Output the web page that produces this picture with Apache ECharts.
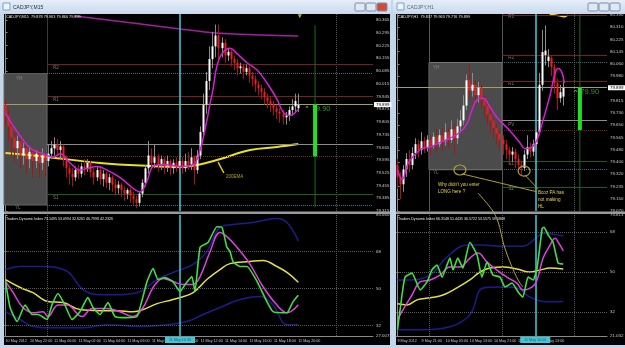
<!DOCTYPE html>
<html><head><meta charset="utf-8">
<script src="https://cdn.jsdelivr.net/npm/echarts@6.0.0/dist/echarts.min.js"></script>
<style>html,body{margin:0;padding:0;background:#c4d6ea;overflow:hidden}#chart{width:625px;height:348px}</style>
</head><body><div id="chart"></div>
<script>
// ================= DATA =================
const m15TimeLabels = ['10 May 2012','10 May 22:00','11 May 00:00','11 May 02:00','11 May 04:00','11 May 06:00','11 May 08:00','11 May 10:00','11 May 12:00','11 May 14:00','11 May 16:00','11 May 18:00','11 May 20:00'];
const h1TimeLabels = ['9 May 2012','9 May 21:00','10 May 05:00','10 May 13:00','10 May 21:00','11 May 05:00','11 May 13:00'];
const m15PriceTicks = [79.315,79.385,79.455,79.525,79.595,79.665,79.735,79.805,79.875,79.945,80.015,80.085,80.155,80.225,80.295,80.365];
const h1PriceTicks = [79.070,79.150,79.235,79.320,79.400,79.480,79.565,79.650,79.730,79.815,79.980,80.060,80.145,80.225,80.310,80.390];
const m15TdiTicks = [27.0073,32,50,68,85.6609];
const h1TdiTicks = [21.032,32,50,68,75.813];

// candles: [open, close, low, high] in 0.01 JPY
const m15Bars = [
[7990,7984,7978,7993],[7984,7978,7970,7987],[7978,7972,7962,7981],[7972,7966,7958,7975],[7966,7970,7960,7973],
[7970,7962,7955,7972],[7962,7966,7957,7969],[7966,7960,7952,7968],[7960,7964,7955,7967],[7964,7959,7950,7966],
[7959,7963,7955,7965],[7963,7958,7950,7965],[7958,7962,7954,7966],[7962,7959,7950,7963],[7959,7963,7956,7968],
[7963,7966,7960,7970],[7966,7968,7962,7972],[7968,7965,7961,7971],[7965,7967,7960,7970],[7967,7960,7956,7968],
[7960,7955,7950,7962],[7955,7952,7946,7957],[7952,7950,7945,7955],[7950,7954,7948,7956],[7954,7952,7949,7957],
[7952,7956,7950,7958],[7956,7955,7951,7960],[7955,7958,7953,7960],[7958,7953,7950,7959],[7953,7950,7946,7955],
[7950,7954,7948,7956],[7954,7949,7946,7956],[7949,7952,7945,7954],[7952,7947,7944,7953],[7947,7950,7943,7952],
[7950,7946,7942,7951],[7946,7944,7940,7949],[7944,7946,7941,7948],[7946,7943,7939,7947],[7943,7941,7937,7945],
[7941,7943,7938,7944],[7943,7940,7936,7944],[7940,7938,7935,7942],[7938,7936,7933,7940],[7936,7941,7934,7942],
[7941,7947,7939,7949],[7947,7955,7945,7957],[7955,7962,7952,7970],[7962,7958,7955,7966],[7958,7961,7955,7968],
[7961,7957,7953,7963],[7957,7960,7954,7962],[7960,7956,7952,7961],[7956,7959,7953,7962],[7959,7955,7951,7960],
[7955,7958,7952,7960],[7958,7956,7953,7961],[7956,7959,7952,7962],[7959,7955,7952,7961],[7955,7959,7953,7963],
[7959,7957,7954,7964],[7957,7961,7954,7966],[7961,7954,7946,7962],[7954,7962,7952,7965],[7962,7975,7960,7978],
[7975,7990,7972,7996],[7990,8003,7985,8008],[8003,8015,7998,8022],[8015,8022,8010,8030],[8022,8028,8016,8034],
[8028,8021,8015,8034],[8021,8024,8016,8027],[8024,8017,8013,8026],[8017,8019,8014,8021],[8019,8015,8011,8020],
[8015,8013,8009,8017],[8013,8010,8006,8015],[8010,8011,8007,8013],[8011,8008,8004,8012],[8008,8010,8006,8012],
[8010,8006,8002,8011],[8006,8004,8000,8008],[8004,8001,7997,8006],[8001,7999,7995,8003],[7999,7997,7993,8001],
[7997,7994,7990,7999],[7994,7992,7988,7996],[7992,7990,7986,7994],[7990,7988,7984,7992],[7988,7986,7982,7990],
[7986,7985,7980,7988],[7985,7983,7979,7987],[7983,7984,7979,7986],[7984,7987,7981,7989],[7987,7989,7984,7993],
[7989,7992,7986,7996],[7988,7990,7986,7996]
];
const h1Bars = [
[7938,7930,7922,7942],[7930,7925,7915,7933],[7925,7935,7920,7938],[7935,7942,7930,7946],[7942,7938,7933,7948],
[7938,7946,7935,7950],[7946,7952,7942,7956],[7952,7948,7943,7955],[7948,7954,7945,7960],[7954,7950,7946,7957],
[7950,7955,7947,7958],[7955,7951,7944,7957],[7951,7957,7949,7960],[7957,7952,7946,7962],[7952,7958,7950,7962],
[7958,7954,7948,7963],[7954,7960,7951,7966],[7960,7955,7950,7963],[7955,7962,7953,7968],[7962,7956,7945,7966],
[7956,7964,7952,7969],[7964,7968,7960,7975],[7968,7978,7965,7985],[7978,7995,7975,7999],[7995,7988,7983,8005],
[7988,7992,7984,8000],[7992,7985,7978,7995],[7985,7990,7980,7994],[7990,7982,7976,7992],[7982,7978,7970,7985],
[7978,7972,7965,7980],[7972,7968,7960,7975],[7968,7963,7956,7970],[7963,7959,7952,7966],[7959,7955,7948,7962],
[7955,7952,7945,7958],[7952,7948,7942,7955],[7948,7945,7938,7950],[7945,7947,7940,7950],[7947,7942,7936,7949],
[7942,7938,7933,7945],[7938,7936,7931,7941],[7936,7945,7934,7948],[7945,7950,7942,7958],[7950,7947,7943,7953],
[7947,7952,7944,7955],[7952,7960,7948,7963],[7960,7992,7958,8000],[7992,8014,7988,8029],[8012,8015,8005,8032],
[8008,8011,8004,8016],[8010,8004,7998,8012],[8004,7993,7986,8006],[7993,7983,7975,7996],[7983,7987,7980,7992],
[7984,7990,7978,7996]
];

// moving averages: [bar, price]
const m15MaFast = [[0,79.85],[6.4,79.69],[9,79.65],[12.3,79.63],[15.6,79.61],[17.9,79.63],[21.1,79.58],[24.4,79.54],[27,79.55],[30,79.56],[33.3,79.54],[37.5,79.50],[41.8,79.44],[44.1,79.42],[46.4,79.48],[48.4,79.56],[51.6,79.57],[57.2,79.56],[61.5,79.57],[63.8,79.65],[66,79.81],[67,79.90],[68,79.98],[69.3,80.11],[71,80.18],[73.6,80.21],[75.9,80.18],[79.2,80.13],[82.5,80.09],[85.7,80.02],[89,79.93],[91,79.86],[93.3,79.84],[96,79.875]];
const m15Ema200 = [[0,79.634],[13.6,79.612],[31,79.579],[47.4,79.562],[57.2,79.557],[62.8,79.568],[69.3,79.595],[80.2,79.650],[89,79.667],[96,79.683]];
const m15MaSlow = [[22.8,80.387],[57.2,80.316],[68.7,80.294],[96,80.277]];
const h1MaFast = [[0,79.35],[1.5,79.28],[3.5,79.39],[5.8,79.45],[8.1,79.49],[10.8,79.50],[14.1,79.53],[17.4,79.56],[20.7,79.60],[23.1,79.66],[24.7,79.75],[26.4,79.82],[28.4,79.83],[30.7,79.77],[33,79.70],[37.3,79.61],[40.6,79.53],[42.3,79.49],[44.6,79.50],[46.3,79.55],[48,79.66],[50.6,79.85],[52.3,80.00],[53.3,80.03],[54.6,80.00],[55.3,79.93]];
const h1TopLine = [[50.5,80.395],[53.8,80.385],[55.5,80.378],[56.5,80.39]];

// Traders Dynamic Index: [bar, value]
const m15TdiRsi = [[0,53.5],[1.5,40.8],[3.8,34],[6.4,42],[8.7,37.4],[10.7,37.4],[13.6,35],[15.2,42],[17.2,47.6],[19.5,42],[21.8,35],[24.4,38.8],[27,45.6],[28.7,40.8],[31,37.4],[33.6,43.2],[35.9,36.4],[39.8,35.9],[43.1,36.4],[46.4,53.4],[48.4,59.7],[50,54.4],[52.3,55.3],[54.9,53.4],[57.2,48.5],[58.9,52],[61.1,55.8],[62.1,48.5],[63.8,70],[66.4,72.3],[69.3,80],[71,79.6],[72.6,70],[73.6,68],[74.6,63],[76.9,60.7],[79.2,60.7],[82.5,53.4],[85.7,43.7],[87.7,38.8],[91,38.3],[92.3,38.3],[94.3,43.7],[96,46.8]];
const m15TdiSignal = [[0,53.5],[2.5,48],[5.7,40.8],[9,38.3],[12.3,38.8],[13.9,36.4],[17.2,42],[20.2,42],[25.1,36.4],[28.4,40.3],[33.3,40.3],[37.5,38.8],[41.8,36.4],[45.1,40.8],[48.4,50.5],[51.6,54.9],[54.9,53.4],[58.2,52],[61.5,52],[63.8,55.8],[67.1,68],[70.3,77.2],[72.6,75.2],[75.9,70],[80.2,61.7],[84.4,51],[89,42],[92.3,38.3],[96,42.2]];
const m15TdiBase = [[0,54.3],[4.8,50.5],[9,48],[13.9,43.7],[18.9,43.2],[24.4,39.8],[31,39.3],[36.6,39.3],[41.8,38.8],[45.1,39.8],[49.7,42.7],[54.9,44.7],[61.5,48],[66,54.4],[70.3,59.2],[73.6,62.1],[80.2,63.1],[84.4,63.6],[89,60.7],[92.3,57.8],[96,53.1]];
const m15TdiUpper = [[0,59.2],[4.8,60.7],[12.3,60.7],[20.2,58.3],[25.4,49.5],[31,47],[37.5,47],[44.1,48.5],[49.7,54.4],[54.9,57.8],[61.5,61.7],[66,68],[70.3,79.6],[74.6,81],[81.1,82],[89,84],[92.3,82],[96,73.1]];
const m15TdiLower = [[0,38.8],[4.8,35],[9,31.6],[14.6,31],[25.4,31],[33.3,32.5],[44.1,31.6],[52.9,32.5],[59.5,34],[64.8,37.4],[70.3,40.8],[76.9,44.7],[83.4,46.1],[87.7,42],[92.3,32.5],[96,32.6]];
const h1TdiRsi = [[0,23.9],[1.5,39.6],[2.5,47.7],[4.8,49.5],[7.5,41.9],[9.8,45.5],[11.4,50.9],[13.1,53.2],[14.8,47.7],[17.4,56.3],[18.4,50.9],[20,56.3],[21.7,51.8],[24,63.5],[26.4,57.7],[28,47.7],[29.7,54.5],[31.7,48.6],[34,47.7],[35.7,43.2],[38,45],[40,41],[41.6,38.7],[43.3,47.7],[45,46.4],[46.3,51.8],[48,69.8],[48.6,70.3],[50,66.7],[51.6,63.5],[53.3,54],[55,53.6]];
const h1TdiSignal = [[0,28.4],[1.8,32.9],[4.8,39.6],[7.5,45.5],[10.8,46.4],[14.1,48.6],[17.4,52.3],[20.7,52.3],[24,56.3],[26.7,58.6],[29.7,54.5],[33,50.9],[36.3,47.7],[39.6,45],[41.6,41.9],[44.6,43.2],[46.3,46.4],[48.3,56.3],[50.6,62.2],[52.3,65.3],[53.3,63.5],[55,59.6]];
const h1TdiBase = [[0,35.6],[3.2,35.1],[6.5,37.4],[10.8,38.3],[15.1,39.6],[19.7,42.8],[24,46.4],[27.4,50],[30.7,51.8],[35,52.3],[39.6,51.4],[43.9,50],[47.3,50.9],[50.6,51.8],[55,51.4]];
const h1TdiUpper = [[0,46.4],[4.1,46.4],[10.8,48.6],[16.4,56.8],[23.1,62.2],[27.4,62.2],[34,61.7],[41.6,61.7],[46.3,65.8],[48.3,67.6],[55,66.3]];
const h1TdiLower = [[0,23.9],[8.5,23.9],[17.4,25.2],[24,30.6],[28.4,42.8],[35,43.2],[39.6,42.8],[43.9,38.7],[49.6,36.5],[55,36.6]];

// levels
const bidPrice = 79.899;
const pivotNames = ['R3','R2','R1','PV','S1','S2'];
const pivotValues = [80.390, 80.120, 79.945, 79.680, 79.405, 79.232];
const yHigh = 80.070, yLow = 79.348, dayOpen = 79.615;
const m15Header = 'CADJPY,M15  79.878 79.963 79.860 79.899';
const h1Header = 'CADJPY,H1  79.837 79.963 79.776 79.899';
const m15TdiHeader = 'Traders Dynamic Index 73.1495 53.0994 32.6261 46.7998 42.2326';
const h1TdiHeader = 'Traders Dynamic Index 66.3148 51.4435 36.5722 53.5575 59.5868';

// ================= CHART =================
const FONT = 'Liberation Sans';
const AX = '#c8c8c8';
const AXF = 4.4;
const TXF = 3.7;
const chart = echarts.init(document.getElementById('chart'), null, {renderer:'canvas', width:625, height:348});

function candles(bars, xi, yi){
  return {type:'custom', xAxisIndex:xi, yAxisIndex:yi, z:5, silent:true,
    data: bars.map((b,i)=>[i,b[0]/100,b[1]/100,b[2]/100,b[3]/100]),
    encode:{x:0,y:[1,2,3,4]},
    renderItem(params, api){
      const i=api.value(0),o=api.value(1),c=api.value(2),l=api.value(3),h=api.value(4);
      const pO=api.coord([i,o]),pC=api.coord([i,c]),pL=api.coord([i,l]),pH=api.coord([i,h]);
      const up=c>=o, x=Math.floor(pO[0]);
      const top=Math.min(pO[1],pC[1]), ht=Math.max(1,Math.abs(pO[1]-pC[1]));
      return {type:'group',children:[
        {type:'line',shape:{x1:x+0.5,y1:pH[1],x2:x+0.5,y2:pL[1]},style:{stroke:up?'#8c8c8c':'#a81414',lineWidth:1}},
        {type:'rect',shape:{x:x-0.5,y:top,width:2,height:ht},style:{fill:up?'#ffffff':'#f01c1c'}}
      ]};
    }};
}
function line(data, xi, yi, color, width, z, smooth){
  return {type:'line', xAxisIndex:xi, yAxisIndex:yi, data, symbol:'none', showSymbol:false, silent:true,
    smooth: smooth||0, z: z||4, lineStyle:{color, width}};
}
function seg(x1,x2,v,color,type){ return [{coord:[x1,v],lineStyle:{color,type,width:1}},{coord:[x2,v]}]; }
function vline(x,color,type,w){ return {xAxis:x,lineStyle:{color,type,width:w||1}}; }
function carrier(xi,yi,z,extra){ return Object.assign({type:'line',xAxisIndex:xi,yAxisIndex:yi,data:[],z,silent:true},extra); }
function texts(data, xi, yi, color, size, z){
  return {type:'scatter', xAxisIndex:xi, yAxisIndex:yi, symbolSize:0, z:z||6, silent:true,
    data: data.map(d=>({value:[d[0],d[1]], label:{formatter:d[2], offset:d[3]||[0,3]}})),
    label:{show:true, position:'right', distance:0, color, fontSize:size, fontFamily:FONT}};
}
const RED='#7a1e1e', GRN='#1e5c1e', PVC='#8c8c8c', TEAL='#3f6f78', OLIVE='#a0a064';
const pv = n => pivotValues[pivotNames.indexOf(n)];

const tdiCol = {up:'#1c1c8c', base:'#e4e040', sig:'#e040e0', rsi:'#40e040'};
function tdiSeries(xi, yi, u, lo, b, s, r){
  return [line(u,xi,yi,tdiCol.up,1.5,3,0.4), line(lo,xi,yi,tdiCol.up,1.5,3,0.4),
          line(b,xi,yi,tdiCol.base,1.5,4,0.4), line(s,xi,yi,tdiCol.sig,1.5,5,0.4), line(r,xi,yi,tdiCol.rsi,1.6,6,0.15)];
}
function yAx(grid, min, max, ticks, fmt){
  return {gridIndex:grid, type:'value', position:'right', min, max, splitLine:{show:false},
    axisLine:{show:true, lineStyle:{color:'#8a8a8a'}},
    axisTick:{show:true, length:2, customValues:ticks, lineStyle:{color:'#8a8a8a'}},
    axisLabel:{customValues:ticks, formatter:fmt, color:AX, fontSize:AXF, fontFamily:FONT, margin:3, showMinLabel:true, showMaxLabel:true, hideOverlap:false}};
}
function xAx(grid, max, labels){
  if(!labels) return {gridIndex:grid, type:'value', min:-0.5, max, show:false};
  const ticks = labels.map((_,k)=>k*8);
  return {gridIndex:grid, type:'value', min:-0.5, max, splitLine:{show:false},
    axisLine:{show:true, lineStyle:{color:'#8a8a8a'}}, axisTick:{show:false},
    axisLabel:{customValues:ticks, formatter:v=>labels[Math.round(v/8)], color:AX, fontSize:TXF, fontFamily:FONT, align:'left', margin:3, hideOverlap:false, showMinLabel:true, showMaxLabel:true}};
}
const priceFmt = v => v.toFixed(3);
const tdiFmt = v => String(v);
const hotLabel = t => ({show:true, position:'start', formatter:t, backgroundColor:'#3cc8d8', color:'#1a5a78', fontSize:TXF, fontFamily:FONT, padding:[1,4,1,4], distance:1});
const bidLabel = {show:true, position:'end', formatter:bidPrice.toFixed(3), backgroundColor:'#ffffff', color:'#000', fontSize:AXF, fontFamily:FONT, padding:[1,2,0,2], distance:1};
const CYAN='#3ccfe0';

const option = {
  animation:false,
  backgroundColor:'transparent',
  grid:[
    {left:4, top:14, width:369, height:197, containLabel:false, outerBoundsMode:'none'},
    {left:4, top:215, width:369, height:121, containLabel:false, outerBoundsMode:'none'},
    {left:396, top:14, width:211, height:197, containLabel:false, outerBoundsMode:'none'},
    {left:396, top:215, width:211, height:121, containLabel:false, outerBoundsMode:'none'}
  ],
  xAxis:[ xAx(0,120.5), xAx(1,120.5,m15TimeLabels), xAx(2,69.5), xAx(3,69.5,h1TimeLabels) ],
  yAxis:[
    yAx(0,79.315,80.398,m15PriceTicks,priceFmt),
    yAx(1,27.0073,85.6609,m15TdiTicks,tdiFmt),
    yAx(2,79.07,80.3966,h1PriceTicks,priceFmt),
    yAx(3,21.032,75.813,h1TdiTicks,tdiFmt)
  ],
  series:[
    // ---------- M15 price ----------
    carrier(0,0,0,{markArea:{silent:true, data:[[{coord:[-0.5,yHigh],itemStyle:{color:'#4b4b4b',opacity:1,borderColor:'#666',borderWidth:1}},{coord:[13.6,yLow]}]]}}),
    carrier(0,0,1,{markLine:{symbol:['none','none'], silent:true, label:{show:false}, data:[
      vline(13.6,'#3a3a3a','solid'), vline(108.4,'#5a5a5a','dotted'),
      seg(13.6,120.5,pv('R2'),RED,'solid'), seg(13.6,120.5,yHigh,TEAL,'dotted'), seg(13.6,120.5,pv('R1'),RED,'solid'),
      seg(13.6,120.5,pv('PV'),PVC,'solid'), seg(13.6,120.5,dayOpen,'#8a2020','dotted'), seg(13.6,120.5,pv('S1'),GRN,'solid'),
      seg(13.6,120.5,yLow,TEAL,'dotted'),
      {yAxis:bidPrice, lineStyle:{color:OLIVE,type:'solid',width:1}, label:bidLabel},
      vline(57.2,CYAN,'solid',1.5)
    ]}}),
    line(m15Ema200,0,0,'#e8e020',2,3,0.4),
    line(m15MaSlow,0,0,'#a020a0',1.5,3,0.3),
    line([[69.7,79.584],[71.6,79.524]],0,0,'#d8c830',1.5,3,0),
    candles(m15Bars,0,0),
    line(m15MaFast,0,0,'#d81ed8',1.5,6,0.4),
    texts([[15.6,pv('R2'),'R2'],[15.6,pv('R1'),'R1'],[15,pv('PV'),'PV'],[15.6,pv('S1'),'S1'],[3.4,yHigh,'YH',[0,5]],[3.1,yLow,'YL',[0,3]]],0,0,'#9a9a9a',4.5,2),
    texts([[72.3,79.502,'200EMA',[0,0]]],0,0,'#d8c830',4.5,6),
    {type:'scatter', xAxisIndex:0, yAxisIndex:0, silent:true, z:7, symbol:'triangle', symbolRotate:180, symbolSize:4, itemStyle:{color:'#e8e020'}, data:[[96.5,80.385]]},
    {type:'scatter', xAxisIndex:0, yAxisIndex:0, symbolSize:0, z:6, silent:true, data:[[98.4,bidPrice]],
      label:{show:true, position:'right', distance:0, offset:[0,4], formatter:'{a|^} {b|79.90}', rich:{a:{color:'#fff',fontSize:6,fontFamily:FONT},b:{color:'#3cb43c',fontSize:7.5,fontFamily:FONT}}}},
    line([[101.5,80.335],[101.5,79.335]],0,0,'#1e6a1e',1,7,0),
    line([[101.5,bidPrice],[101.5,dayOpen]],0,0,'#22e022',4,8,0),
    // ---------- M15 TDI ----------
    carrier(1,1,1,{markLine:{symbol:['none','none'], silent:true, label:{show:false}, data:[
      {yAxis:32,lineStyle:{color:'#5a5a5a',type:'dotted',width:1}},{yAxis:50,lineStyle:{color:'#5a5a5a',type:'dotted',width:1}},{yAxis:68,lineStyle:{color:'#5a5a5a',type:'dotted',width:1}},
      vline(13.6,'#5a5a5a','dotted'), vline(108.4,'#5a5a5a','dotted'),
      Object.assign(vline(57.2,CYAN,'solid',1.5),{label:hotLabel('11 May 10:30')})
    ]}}),
    ...tdiSeries(1,1,m15TdiUpper,m15TdiLower,m15TdiBase,m15TdiSignal,m15TdiRsi),
    // ---------- H1 price ----------
    carrier(2,2,0,{markArea:{silent:true, data:[[{coord:[10.45,yHigh],itemStyle:{color:'#4b4b4b',opacity:1,borderColor:'#777',borderWidth:1}},{coord:[34.7,yLow]}]]}}),
    carrier(2,2,1,{markLine:{symbol:['none','none'], silent:true, label:{show:false}, data:[
      vline(10.45,'#555','solid'), vline(34.7,'#555','solid'), vline(58.6,'#5a5a5a','dotted'),
      seg(34.7,69.5,pv('R3'),RED,'solid'), seg(34.7,69.5,pv('R2'),RED,'solid'), seg(34.7,69.5,yHigh,TEAL,'dotted'),
      seg(34.7,69.5,pv('R1'),RED,'solid'), seg(34.7,69.5,pv('PV'),PVC,'solid'), seg(34.7,69.5,dayOpen,'#8a2020','dotted'),
      seg(34.7,69.5,pv('S1'),GRN,'solid'), seg(34.7,69.5,yLow,TEAL,'dotted'), seg(34.7,69.5,pv('S2'),GRN,'solid'),
      {yAxis:bidPrice, lineStyle:{color:OLIVE,type:'solid',width:1}, label:bidLabel},
      vline(45.7,CYAN,'solid',1.5)
    ]}}),
    line(h1TopLine,2,2,'#e8e020',1.5,3,0.3),
    candles(h1Bars,2,2),
    line(h1MaFast,2,2,'#d81ed8',1.5,6,0.4),
    texts([[36.7,pv('R3'),'R3',[0,2]],[36.7,pv('R2'),'R2'],[36.7,pv('R1'),'R1'],[36.7,pv('PV'),'PV',[0,4]],[36.7,pv('S1'),'S1'],[36.7,pv('S2'),'S2',[0,2]],[11.8,yHigh,'YH',[0,5]],[11.8,yLow,'YL',[0,3]]],2,2,'#9a9a9a',4.5,2),
    {type:'scatter', xAxisIndex:2, yAxisIndex:2, symbolSize:0, z:6, silent:true, data:[[58.6,bidPrice]],
      label:{show:true, position:'right', distance:0, offset:[0,4], formatter:'{a|^} {b|79.90}', rich:{a:{color:'#fff',fontSize:6,fontFamily:FONT},b:{color:'#3cb43c',fontSize:7.5,fontFamily:FONT}}}},
    line([[60.5,80.396],[60.5,79.064]],2,2,'#1e6a1e',1,7,0),
    line([[60.5,bidPrice],[60.5,dayOpen]],2,2,'#22e022',4,8,0),
    // ---------- H1 TDI ----------
    carrier(3,3,1,{markLine:{symbol:['none','none'], silent:true, label:{show:false}, data:[
      {yAxis:32,lineStyle:{color:'#5a5a5a',type:'dotted',width:1}},{yAxis:50,lineStyle:{color:'#5a5a5a',type:'dotted',width:1}},{yAxis:68,lineStyle:{color:'#5a5a5a',type:'dotted',width:1}},
      vline(10.45,'#5a5a5a','dotted'), vline(34.7,'#5a5a5a','dotted'), vline(58.6,'#5a5a5a','dotted'),
      Object.assign(vline(45.7,CYAN,'solid',1.5),{label:hotLabel('11 May 10:00')})
    ]}}),
    ...tdiSeries(3,3,h1TdiUpper,h1TdiLower,h1TdiBase,h1TdiSignal,h1TdiRsi)
  ]
};
chart.setOption(option);

// ---------- window chrome & annotations ----------
const P = (g, pt) => chart.convertToPixel({gridIndex:g}, pt);
const titleGrad = () => new echarts.graphic.LinearGradient(0,0,0,1,[{offset:0,color:'#e6eef9'},{offset:1,color:'#c8d9ee'}]);
const T = (x,y,text,color,size,extra) => Object.assign({type:'text', x, y, z:100, style:{text, fill:color, font:size+'px "'+FONT+'"', textVerticalAlign:'middle'}}, extra||{});
const btn = (x,fill) => ({type:'rect', z:100, shape:{x, y:3, width:10, height:8, r:1}, style:{fill, stroke:'#7f8fa8', lineWidth:1}});
const chrome = [
  {type:'rect', z:-100, shape:{x:0,y:0,width:625,height:348}, style:{fill:'#c4d6ea'}},
  {type:'rect', z:-99, shape:{x:0,y:0,width:391,height:14}, style:{fill:titleGrad()}},
  {type:'rect', z:-99, shape:{x:393,y:0,width:232,height:14}, style:{fill:titleGrad()}},
  {type:'rect', z:-98, shape:{x:4,y:14,width:386,height:331}, style:{fill:'#000'}},
  {type:'rect', z:-98, shape:{x:396,y:14,width:229,height:331}, style:{fill:'#000'}},
  {type:'rect', z:100, shape:{x:3,y:3,width:7,height:7}, style:{fill:'#eef4fb', stroke:'#7aa0c8', lineWidth:1}},
  {type:'rect', z:100, shape:{x:397,y:3,width:7,height:7}, style:{fill:'#eef4fb', stroke:'#7aa0c8', lineWidth:1}},
  T(13,7.5,'CADJPY,M15','#1e2a3a',5), T(407,7.5,'CADJPY,H1','#5a6a7a',5),
  btn(355,'#dfe8f4'), btn(366,'#dfe8f4'), btn(377,'#d24a36'),
  btn(588,'#dfe8f4'), btn(599,'#dfe8f4'), btn(610,'#dfe8f4'),
  {type:'rect', z:90, shape:{x:4,y:211.5,width:386,height:2.5}, style:{fill:'#9a9a9a'}},
  {type:'rect', z:90, shape:{x:396,y:211.5,width:229,height:2.5}, style:{fill:'#9a9a9a'}},
  T(6,17,m15Header,'#e8e8e8',3.8), T(398,17,h1Header,'#e8e8e8',3.8),
  T(6,218.5,m15TdiHeader,'#e8e8e8',3.6), T(398,218.5,h1TdiHeader,'#e8e8e8',3.6)
];
// annotations anchored on data coordinates (H1 chart)
const annColor = '#b0a030';
const c1 = P(2,[20.7,79.346]), c2 = P(2,[42,79.339]);
const poly = pts => ({type:'polyline', z:60, shape:{points:pts, smooth:0.3}, style:{stroke:annColor, lineWidth:1, fill:null}});
const ann = [
  {type:'ellipse', z:60, shape:{cx:c1[0], cy:c1[1], rx:6, ry:5}, style:{stroke:annColor, lineWidth:1.2, fill:null}},
  {type:'ellipse', z:60, shape:{cx:c2[0], cy:c2[1], rx:6, ry:5}, style:{stroke:annColor, lineWidth:1.2, fill:null}},
  poly([P(2,[21.4,79.320]), P(2,[46.3,79.199])]),
  poly([P(2,[42.3,79.312]), P(2,[46.6,79.218])]),
  poly([P(2,[26.7,79.191]), P(2,[31.4,79.077]), P(3,[33.4,72.6]), P(3,[35.3,62.2]), P(3,[37.7,53.2]), P(3,[40,46.4]), P(3,[41.6,43.2])]),
];
const t1 = P(2,[13.4,79.272]), t2 = P(2,[46.6,79.218]);
ann.push({type:'text', z:61, x:t1[0], y:t1[1], style:{text:"Why didn't you enter\nLONG here ?", fill:'#e6d24a', font:'4.6px "'+FONT+'"', lineHeight:7}});
ann.push({type:'text', z:61, x:t2[0], y:t2[1], style:{text:"Bcoz PA has\nnot making\nHL", fill:'#e6d24a', font:'4.6px "'+FONT+'"', lineHeight:7}});
chart.setOption({graphic: chrome.concat(ann)});
</script></body></html>
